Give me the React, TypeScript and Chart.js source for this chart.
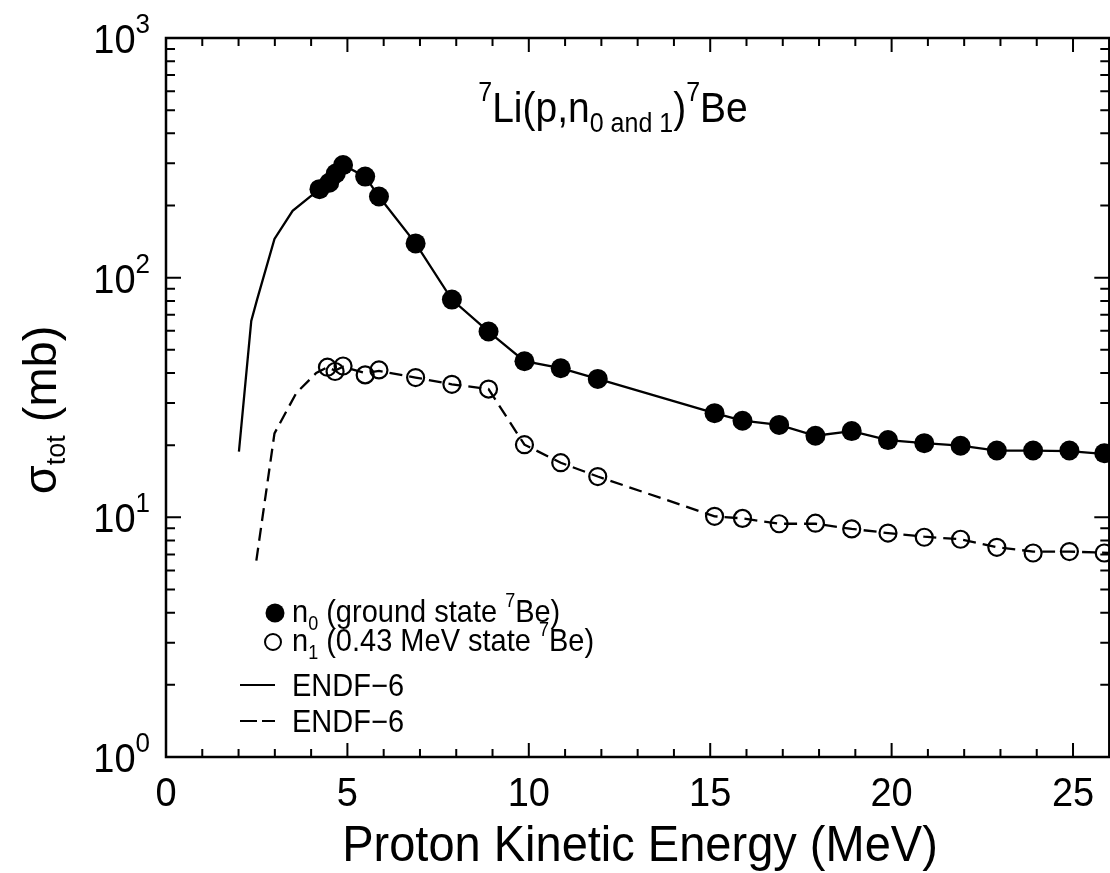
import { useEffect, useRef } from "react";
import { Chart, registerables } from "chart.js";

Chart.register(...registerables);

// ---- data ----
const n0Energy = [4.23, 4.5, 4.68, 4.88, 5.49, 5.87, 6.88, 7.88, 8.89, 9.88, 10.88, 11.9, 15.12, 15.89, 16.9, 17.9, 18.9, 19.9, 20.9, 21.9, 22.9, 23.9, 24.9, 25.86];
const n0Sigma = [234, 249, 272, 295, 264, 218, 139, 81, 59.6, 44.8, 41.9, 37.8, 27.2, 25.3, 24.3, 21.9, 22.9, 21.0, 20.4, 19.9, 19.0, 19.0, 19.0, 18.5];

const n1Energy = [4.45, 4.66, 4.88, 5.49, 5.87, 6.88, 7.88, 8.89, 9.88, 10.88, 11.9, 15.12, 15.89, 16.9, 17.9, 18.9, 19.9, 20.9, 21.9, 22.9, 23.9, 24.9, 25.86];
const n1Sigma = [42.3, 40.6, 42.8, 39.3, 41.2, 38.3, 35.9, 34.3, 20.1, 16.9, 14.8, 10.1, 9.9, 9.4, 9.45, 8.95, 8.6, 8.26, 8.1, 7.5, 7.1, 7.2, 7.1];

const endfN0Energy = [2.01, 2.35, 2.51, 2.99, 3.49, 4.23, 4.5, 4.68, 4.88, 5.49, 5.87, 6.88, 7.88, 8.89, 9.88, 10.88, 11.9, 15.12, 15.89, 16.9, 17.9, 18.9, 19.9, 20.9, 21.9, 22.9, 23.9, 24.9, 26];
const endfN0Sigma = [18.8, 66, 81, 145, 190, 234, 250, 272, 295, 264, 218, 139, 81, 59.6, 44.8, 41.9, 37.8, 27.2, 25.3, 24.3, 21.9, 22.9, 21.0, 20.4, 19.9, 19.0, 19.0, 18.9, 18.3];

const endfN1Energy = [2.49, 2.99, 3.59, 4.14, 4.45, 4.66, 4.88, 5.49, 5.87, 6.88, 7.88, 8.89, 9.88, 10.88, 11.9, 15.12, 15.89, 16.9, 17.9, 18.9, 19.9, 20.9, 21.9, 22.9, 23.9, 24.9, 26];
const endfN1Sigma = [6.6, 22.4, 33, 40, 42.3, 41, 42.5, 40, 40.8, 38.3, 35.9, 34.3, 20.1, 16.9, 14.8, 10.1, 9.9, 9.4, 9.4, 8.95, 8.6, 8.3, 8.1, 7.5, 7.2, 7.2, 7.1];

const xMajorTicks = [0, 5, 10, 15, 20, 25];
const xMinorTicks = [1, 2, 3, 4, 6, 7, 8, 9, 11, 12, 13, 14, 16, 17, 18, 19, 21, 22, 23, 24];
const xTickLabels = ["0", "5", "10", "15", "20", "25"];
const yMajorTicks = [1, 10, 100, 1000];
const yMinorTicks = [2, 3, 4, 5, 6, 7, 8, 9, 20, 30, 40, 50, 60, 70, 80, 90, 200, 300, 400, 500, 600, 700, 800, 900];
const yTickExponents = ["0", "1", "2", "3"];

const FONT = '"Liberation Sans", Arial, Helvetica, sans-serif';
const STRETCH = 1.08;

type Seg = { t: string; size: number; dy: number };

function drawRuns(ctx: CanvasRenderingContext2D, segs: Seg[], x: number, y: number, align: "left" | "center" | "right", k: number = STRETCH) {
  let total = 0;
  const widths = segs.map((s) => {
    ctx.font = `${s.size}px ${FONT}`;
    const w = ctx.measureText(s.t).width;
    total += w;
    return w;
  });
  let cx = align === "left" ? x : align === "center" ? x - total / 2 : x - total;
  ctx.textAlign = "left";
  ctx.textBaseline = "alphabetic";
  segs.forEach((s, i) => {
    ctx.font = `${s.size}px ${FONT}`;
    ctx.save();
    ctx.translate(cx, y + s.dy);
    ctx.scale(1, k);
    ctx.fillText(s.t, 0, 0);
    ctx.restore();
    cx += widths[i];
  });
}

const decorPlugin = {
  id: "decor",
  afterDraw(chart: any) {
    const ctx: CanvasRenderingContext2D = chart.ctx;
    const a = chart.chartArea;
    const xs = chart.scales.x;
    const ys = chart.scales.y;
    ctx.save();
    ctx.fillStyle = "#000";
    ctx.strokeStyle = "#000";
    ctx.setLineDash([]);

    // frame
    ctx.lineWidth = 2.5;
    ctx.strokeRect(a.left, a.top, a.right - a.left, a.bottom - a.top);

    // ticks
    ctx.lineWidth = 2;
    ctx.beginPath();
    const xt = (v: number, len: number) => {
      const px = xs.getPixelForValue(v);
      ctx.moveTo(px, a.bottom);
      ctx.lineTo(px, a.bottom - len);
      ctx.moveTo(px, a.top);
      ctx.lineTo(px, a.top + len);
    };
    xMajorTicks.forEach((v) => xt(v, 14));
    xMinorTicks.forEach((v) => xt(v, 8));
    const yt = (v: number, len: number) => {
      const py = ys.getPixelForValue(v);
      ctx.moveTo(a.left, py);
      ctx.lineTo(a.left + len, py);
      ctx.moveTo(a.right, py);
      ctx.lineTo(a.right - len, py);
    };
    yMajorTicks.forEach((v) => yt(v, 15));
    yMinorTicks.forEach((v) => yt(v, 9));
    ctx.stroke();

    // x tick labels
    xMajorTicks.forEach((v, i) => {
      drawRuns(ctx, [{ t: xTickLabels[i], size: 38, dy: 0 }], xs.getPixelForValue(v), a.bottom + 49, "center");
    });
    // y tick labels
    yMajorTicks.forEach((v, i) => {
      const py = ys.getPixelForValue(v);
      drawRuns(
        ctx,
        [
          { t: "10", size: 38, dy: 0 },
          { t: yTickExponents[i], size: 26, dy: -20 },
        ],
        a.left - 16,
        py + 15,
        "right"
      );
    });

    // x axis title
    drawRuns(ctx, [{ t: "Proton Kinetic Energy (MeV)", size: 47, dy: 0 }], 640, 861, "center");

    // y axis title (rotated)
    ctx.save();
    ctx.translate(56, 410);
    ctx.rotate(-Math.PI / 2);
    drawRuns(
      ctx,
      [
        { t: "σ", size: 47, dy: 0 },
        { t: "tot", size: 27, dy: 9 },
        { t: " (mb)", size: 47, dy: 0 },
      ],
      0,
      0,
      "center",
      1.0
    );
    ctx.restore();

    // plot title
    drawRuns(
      ctx,
      [
        { t: "7", size: 25, dy: -21 },
        { t: "Li(p,n", size: 39, dy: 0 },
        { t: "0 and 1", size: 25, dy: 10 },
        { t: ")", size: 39, dy: 0 },
        { t: "7", size: 25, dy: -21 },
        { t: "Be", size: 39, dy: 0 },
      ],
      613,
      122,
      "center"
    );

    // legend
    const lx = 292;
    // row 1: filled dot
    ctx.beginPath();
    ctx.arc(275, 613, 9.5, 0, Math.PI * 2);
    ctx.fill();
    drawRuns(
      ctx,
      [
        { t: "n", size: 29, dy: 0 },
        { t: "0", size: 18, dy: 8 },
        { t: " (ground state ", size: 29, dy: 0 },
        { t: "7", size: 18, dy: -15 },
        { t: "Be)", size: 29, dy: 0 },
      ],
      lx,
      622,
      "left"
    );
    // row 2: open circle
    ctx.lineWidth = 2;
    ctx.beginPath();
    ctx.arc(273, 642, 8, 0, Math.PI * 2);
    ctx.stroke();
    drawRuns(
      ctx,
      [
        { t: "n", size: 29, dy: 0 },
        { t: "1", size: 18, dy: 8 },
        { t: " (0.43 MeV state ", size: 29, dy: 0 },
        { t: "7", size: 18, dy: -15 },
        { t: "Be)", size: 29, dy: 0 },
      ],
      lx,
      651,
      "left"
    );
    // row 3: solid line
    ctx.lineWidth = 2.2;
    ctx.beginPath();
    ctx.moveTo(240, 685);
    ctx.lineTo(275, 685);
    ctx.stroke();
    drawRuns(ctx, [{ t: "ENDF\u22126", size: 29, dy: 0 }], lx, 696, "left");
    // row 4: dashed line
    ctx.beginPath();
    ctx.moveTo(240, 721);
    ctx.lineTo(257, 721);
    ctx.moveTo(262, 721);
    ctx.lineTo(275, 721);
    ctx.stroke();
    drawRuns(ctx, [{ t: "ENDF\u22126", size: 29, dy: 0 }], lx, 732, "left");

    ctx.restore();
  },
};

function toPoints(xv: number[], yv: number[]) {
  return xv.map((x, i) => ({ x, y: yv[i] }));
}

export default function App() {
  const canvasRef = useRef<HTMLCanvasElement | null>(null);

  useEffect(() => {
    const canvas = canvasRef.current;
    if (!canvas) return;
    const chart = new Chart(canvas, {
      type: "scatter",
      data: {
        datasets: [
          {
            label: "ENDF-6 n0",
            data: toPoints(endfN0Energy, endfN0Sigma),
            showLine: true,
            borderColor: "#000",
            borderWidth: 2.3,
            pointRadius: 0,
            fill: false,
          },
          {
            label: "ENDF-6 n1",
            data: toPoints(endfN1Energy, endfN1Sigma),
            showLine: true,
            borderColor: "#000",
            borderWidth: 2.3,
            borderDash: [13, 7],
            pointRadius: 0,
            fill: false,
          },
          {
            label: "n0",
            data: toPoints(n0Energy, n0Sigma),
            showLine: false,
            pointRadius: 10,
            pointBackgroundColor: "#000",
            pointBorderColor: "#000",
            pointBorderWidth: 0,
          },
          {
            label: "n1",
            data: toPoints(n1Energy, n1Sigma),
            showLine: false,
            pointRadius: 8.5,
            pointBackgroundColor: "rgba(0,0,0,0)",
            pointBorderColor: "#000",
            pointBorderWidth: 2.2,
          },
        ],
      },
      options: {
        animation: false,
        responsive: false,
        devicePixelRatio: 1,
        layout: { padding: { left: 166, top: 38, right: 7, bottom: 116 } },
        plugins: { legend: { display: false }, tooltip: { enabled: false } },
        events: [],
        scales: {
          x: { type: "linear", display: false, min: 0, max: 26 },
          y: { type: "logarithmic", display: false, min: 1, max: 1000 },
        },
      },
      plugins: [decorPlugin],
    });
    return () => chart.destroy();
  }, []);

  return (
    <div style={{ position: "fixed", left: 0, top: 0, width: 1110, height: 873, overflow: "hidden", background: "#fff" }}>
      <canvas ref={canvasRef} width={1120} height={873} style={{ width: 1120, height: 873, display: "block" }} />
    </div>
  );
}
